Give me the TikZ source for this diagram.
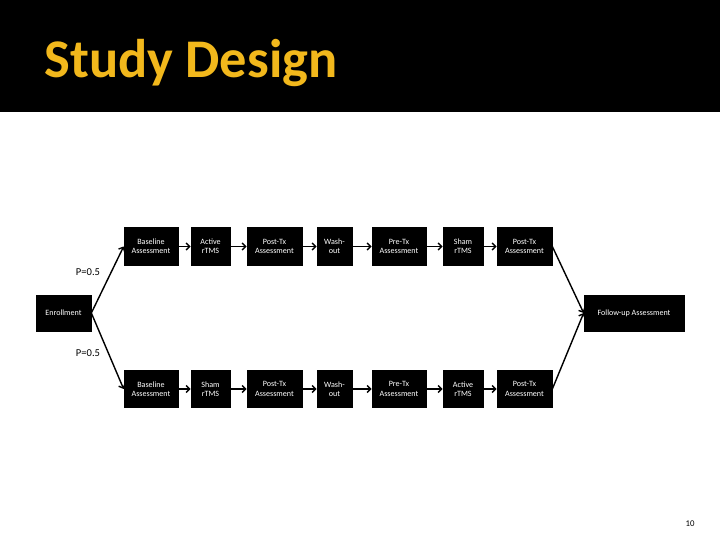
\documentclass[tikz,border=0pt]{standalone}
\usepackage{fontspec}
\setmainfont{Carlito}
\usetikzlibrary{positioning, arrows.meta}
\definecolor{TitleGold}{HTML}{F2B81C}
\tikzset{
  box/.style={draw=black, fill=black, text=white, align=center, inner sep=1pt,
    minimum height=0.75cm, font=\fontsize{4.6}{5.2}\selectfont},
  link/.style={-{Straight Barb[length=2pt]}, thick, black}
}
\begin{document}
\begin{tikzpicture}[x=0.02cm, y=-0.02cm]
                \useasboundingbox (0,0) rectangle (720,540);
                % Title bar
                \fill[black] (0,0) rectangle (720,112);
                \node[anchor=base west, text=TitleGold, font=\fontsize{31}{34}\selectfont\bfseries, inner sep=0pt] (title) at (44,78) {Study Design};
                
                % Enrollment and follow-up
                \node[box, minimum width=1.1cm, minimum height=0.72cm] (enroll) at (63.5,313) {Enrollment};
                \node[box, minimum width=2cm, minimum height=0.72cm] (follow) at (634,313) {Follow-up Assessment};
                
                % Upper arm
                \node[box, minimum width=1.08cm] (base1) at (151,246.5) {Baseline\\Assessment};
                \node[box, minimum width=0.78cm] (treat1) at (210.5,246.5) {Active\\rTMS};
                \node[box, minimum width=1.1cm] (post1) at (274.5,246.5) {Post-Tx\\Assessment};
                \node[box, minimum width=0.7cm] (wash1) at (334.5,246.5) {Wash-\\out};
                \node[box, minimum width=1.08cm] (pre1) at (399,246.5) {Pre-Tx\\Assessment};
                \node[box, minimum width=0.8cm] (cross1) at (463,246.5) {Sham\\rTMS};
                \node[box, minimum width=1.1cm] (end1) at (524.5,246.5) {Post-Tx\\Assessment};
                
                % Lower arm
                \node[box, minimum width=1.08cm] (base2) at (151,389) {Baseline\\Assessment};
                \node[box, minimum width=0.78cm] (treat2) at (210.5,389) {Sham\\rTMS};
                \node[box, minimum width=1.1cm] (post2) at (274.5,389) {Post-Tx\\Assessment};
                \node[box, minimum width=0.7cm] (wash2) at (334.5,389) {Wash-\\out};
                \node[box, minimum width=1.08cm] (pre2) at (399,389) {Pre-Tx\\Assessment};
                \node[box, minimum width=0.8cm] (cross2) at (463,389) {Active\\rTMS};
                \node[box, minimum width=1.1cm] (end2) at (524.5,389) {Post-Tx\\Assessment};
                
                % Arrows
                \foreach \row in {1,2} {
                  \draw[link] (base\row) -- (treat\row);
                  \draw[link] (treat\row) -- (post\row);
                  \draw[link] (post\row) -- (wash\row);
                  \draw[link] (wash\row) -- (pre\row);
                  \draw[link] (pre\row) -- (cross\row);
                  \draw[link] (cross\row) -- (end\row);
                  \draw[link] (enroll.east) -- (base\row.west);
                  \draw[link] (end\row.east) -- (follow.west);
                }
                
                % Probabilities
                \node[font=\fontsize{6}{7}\selectfont] (p1) at (88,272) {P=0.5};
                \node[font=\fontsize{6}{7}\selectfont] (p2) at (88,353) {P=0.5};
                
                % Page number
                \node[font=\fontsize{5}{6}\selectfont] (page) at (690,524) {10};
            \end{tikzpicture}
\end{document}
